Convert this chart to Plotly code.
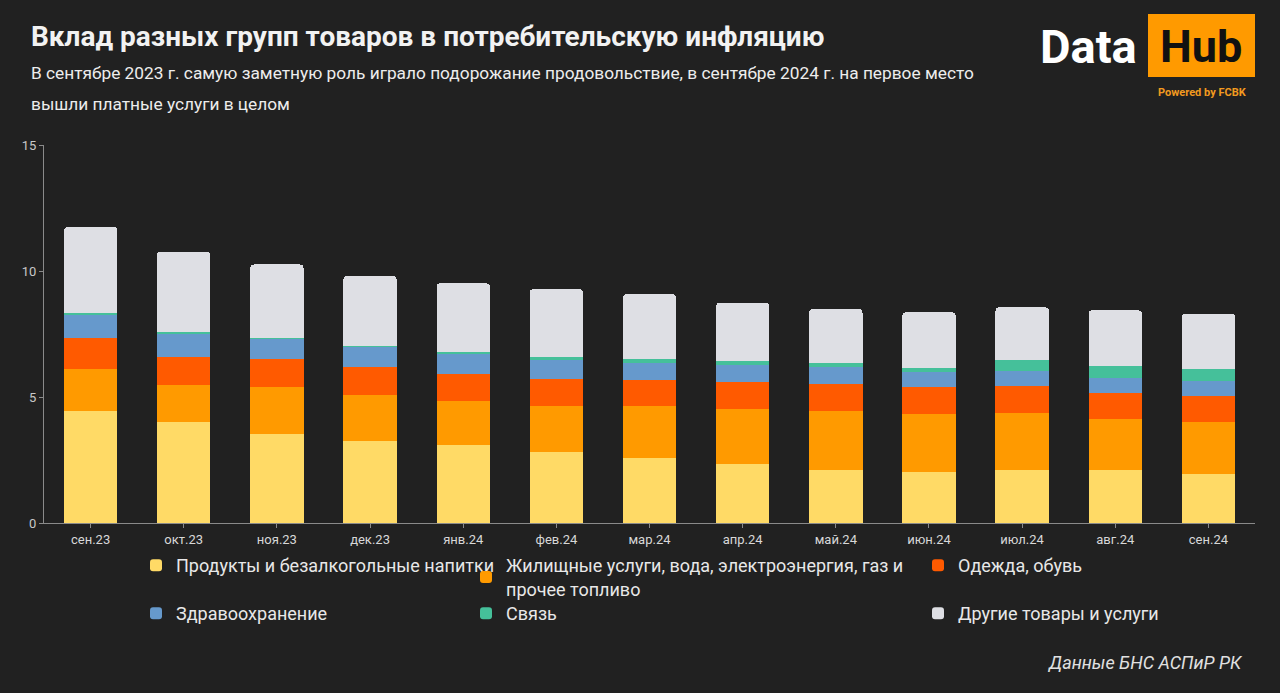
import plotly.graph_objects as go

months = ["сен.23", "окт.23", "ноя.23", "дек.23", "янв.24", "фев.24", "мар.24",
          "апр.24", "май.24", "июн.24", "июл.24", "авг.24", "сен.24"]

food = [4.45, 3.99, 3.54, 3.25, 3.08, 2.80, 2.57, 2.35, 2.12, 2.03, 2.09, 2.09, 1.96]
housing = [1.66, 1.48, 1.87, 1.83, 1.77, 1.84, 2.06, 2.18, 2.32, 2.28, 2.27, 2.02, 2.04]
clothing = [1.24, 1.13, 1.11, 1.10, 1.07, 1.07, 1.04, 1.07, 1.07, 1.08, 1.09, 1.05, 1.05]
health = [0.93, 0.93, 0.82, 0.82, 0.81, 0.74, 0.66, 0.66, 0.68, 0.60, 0.58, 0.58, 0.57]
comm = [0.04, 0.04, 0.02, 0.01, 0.07, 0.15, 0.18, 0.17, 0.16, 0.16, 0.44, 0.50, 0.48]
other = [3.43, 3.20, 2.90, 2.79, 2.71, 2.68, 2.57, 2.31, 2.14, 2.21, 2.09, 2.20, 2.21]

y_ticks = [0, 5, 10, 15]

series = [
    ("Продукты и безалкогольные напитки", food, "#FFDA66"),
    ("Жилищные услуги, вода, электроэнергия, газ и<br>прочее топливо", housing, "#FF9A00"),
    ("Одежда, обувь", clothing, "#FF5A00"),
    ("Здравоохранение", health, "#6699CC"),
    ("Связь", comm, "#45C09A"),
    ("Другие товары и услуги", other, "#DEDFE4"),
]

BG = "#212121"
W, H = 1280, 693
ML, MR, MT, MB = 44, 25, 145, 170
PW, PH = W - ML - MR, H - MT - MB


def xp(px):
    return (px - ML) / PW


def yp(py):
    return (H - MB - py) / PH


legend_ids = ["legend", "legend2", "legend3", "legend4", "legend5", "legend6"]
# (left px, top px) of each legend box
legend_pos = [(136, 547), (466, 547), (918, 547), (136, 595), (466, 595), (918, 595)]

fig = go.Figure()
for (name, vals, color), lg in zip(series, legend_ids):
    fig.add_trace(go.Bar(
        x=months, y=vals, name=name,
        marker=dict(color=color, line=dict(width=0)),
        legend=lg,
    ))

legend_common = dict(
    bgcolor="rgba(0,0,0,0)", borderwidth=0,
    font=dict(family="Roboto", size=18, color="#E8E8E8"),
    orientation="v", yanchor="top", xanchor="left",
    itemclick=False, itemdoubleclick=False,
)

legends = {lg: dict(x=xp(px), y=yp(py), **legend_common)
           for lg, (px, py) in zip(legend_ids, legend_pos)}

fig.update_layout(
    width=W, height=H,
    margin=dict(l=ML, r=MR, t=MT, b=MB, pad=0),
    paper_bgcolor=BG, plot_bgcolor=BG,
    barmode="stack", bargap=0.427, barcornerradius=4,
    font=dict(family="Roboto", color="#CCCCCC"),
    xaxis=dict(
        showline=True, linecolor="#8A8A8A", linewidth=1,
        ticks="outside", ticklen=4, tickcolor="#8A8A8A",
        tickfont=dict(size=13, color="#D8D8D8"),
        showgrid=False, zeroline=False,
    ),
    yaxis=dict(
        range=[0, 15], tickvals=y_ticks,
        showline=True, linecolor="#8A8A8A", linewidth=1,
        ticks="outside", ticklen=4, tickcolor="#8A8A8A",
        tickfont=dict(size=13, color="#C8C8C8"),
        showgrid=False, zeroline=False,
    ),
    showlegend=True,
    **legends,
)

# Title and subtitle
fig.add_annotation(
    text="<b>Вклад разных групп товаров в потребительскую инфляцию</b>",
    xref="paper", yref="paper", x=xp(29), y=yp(37),
    xanchor="left", yanchor="middle", showarrow=False,
    font=dict(family="Roboto", size=28, color="#F2F2F2"),
)
fig.add_annotation(
    text="В сентябре 2023 г. самую заметную роль играло подорожание продовольствие, в сентябре 2024 г. на первое место",
    xref="paper", yref="paper", x=xp(29), y=yp(73),
    xanchor="left", yanchor="middle", showarrow=False,
    font=dict(family="Roboto", size=17.3, color="#EDEDED"),
)
fig.add_annotation(
    text="вышли платные услуги в целом",
    xref="paper", yref="paper", x=xp(29), y=yp(104),
    xanchor="left", yanchor="middle", showarrow=False,
    font=dict(family="Roboto", size=17.3, color="#EDEDED"),
)

# Logo
fig.add_shape(
    type="rect", xref="paper", yref="paper",
    x0=xp(1148), x1=xp(1255), y0=yp(77), y1=yp(14),
    fillcolor="#FF9A00", line=dict(width=0), layer="above",
)
fig.add_annotation(
    text="<b>Data</b>", xref="paper", yref="paper", x=xp(1139), y=yp(46),
    xanchor="right", yanchor="middle", showarrow=False,
    font=dict(family="Roboto", size=47, color="#FFFFFF"),
)
fig.add_annotation(
    text="<b>Hub</b>", xref="paper", yref="paper", x=xp(1201), y=yp(46),
    xanchor="center", yanchor="middle", showarrow=False,
    font=dict(family="Roboto", size=45, color="#111111"),
)
fig.add_annotation(
    text="<b>Powered by FCBK</b>", xref="paper", yref="paper", x=xp(1202), y=yp(93),
    xanchor="center", yanchor="middle", showarrow=False,
    font=dict(family="Roboto", size=11, color="#F29A1F"),
)

# Source
fig.add_annotation(
    text="<i>Данные БНС АСПиР РК</i>", xref="paper", yref="paper", x=xp(1245), y=yp(662),
    xanchor="right", yanchor="middle", showarrow=False,
    font=dict(family="Roboto", size=18, color="#E0E0E0"),
)

fig.write_html(
    "out.html",
    config={"displayModeBar": False},
    post_script="document.body.style.margin='0';document.body.style.background='#212121';",
)
